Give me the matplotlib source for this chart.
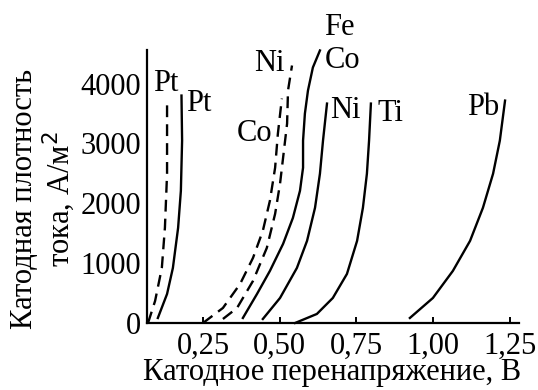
# -*- coding: utf-8 -*-
"""
Cathodic current density vs cathodic overpotential for several metals
"""

import numpy as np
import matplotlib
matplotlib.use('Agg')
import matplotlib.pyplot as plt

plt.rcParams['font.family'] = ['Liberation Serif', 'DejaVu Serif']

### curves: overpotential (V), current density (A/m2)
pt_dash_v = [0.071, 0.094, 0.116, 0.126, 0.133, 0.133]
pt_dash_i = [0, 368, 920, 1590, 2494, 3665]

pt_v = [0.103, 0.133, 0.152, 0.169, 0.178, 0.182, 0.180]
pt_i = [84, 485, 920, 1590, 2209, 3046, 3799]

co_dash_v = [0.250, 0.315, 0.371, 0.413, 0.445, 0.468, 0.485, 0.494, 0.507]
co_dash_i = [0, 251, 653, 1088, 1540, 2042, 2594, 3163, 3749]

ni_dash_v = [0.315, 0.361, 0.413, 0.458, 0.485, 0.501, 0.511, 0.524, 0.527, 0.540]
ni_dash_i = [67, 251, 703, 1255, 1824, 2326, 2762, 3331, 3883, 4301]

feco_v = [0.380, 0.426, 0.468, 0.511, 0.543, 0.566, 0.576, 0.576, 0.582, 0.592, 0.608, 0.631]
feco_i = [84, 485, 870, 1322, 1757, 2209, 2594, 3046, 3498, 3883, 4268, 4552]

ni_v = [0.445, 0.501, 0.556, 0.589, 0.615, 0.631, 0.641, 0.654]
ni_i = [67, 418, 920, 1372, 1925, 2494, 3046, 3665]

ti_v = [0.550, 0.621, 0.673, 0.719, 0.752, 0.771, 0.784, 0.791, 0.797]
ti_i = [0, 151, 418, 820, 1372, 1925, 2494, 3046, 3665]

pb_v = [0.924, 0.999, 1.064, 1.120, 1.162, 1.195, 1.217, 1.234]
pb_i = [84, 418, 870, 1372, 1925, 2494, 3046, 3715]

x_ticks = [0.25, 0.50, 0.75, 1.00, 1.25]
x_labels = ['0,25', '0,50', '0,75', '1,00', '1,25']
y_ticks = [0, 1000, 2000, 3000, 4000]

################### Begin plotting
fig = plt.figure(figsize=(5.38, 3.90), dpi=100)
ax = fig.add_axes([0.2732, 0.1718, 0.6914, 0.7000])

lw = 1.7
dash = (0, (5.0, 3.0))
curves = [(pt_dash_v, pt_dash_i, dash),
          (pt_v, pt_i, '-'),
          (co_dash_v, co_dash_i, dash),
          (ni_dash_v, ni_dash_i, dash),
          (feco_v, feco_i, '-'),
          (ni_v, ni_i, '-'),
          (ti_v, ti_i, '-'),
          (pb_v, pb_i, '-')]
for v, i, ls in curves:
    ax.plot(v, i, color='black', lw=lw, linestyle=ls, clip_on=False,
            solid_joinstyle='round', dash_joinstyle='round')

### curve labels
fs = 22
ax.text(0.129, 4000, 'Pt', fontsize=fs, ha='center', va='center')
ax.text(0.236, 3665, 'Pt', fontsize=fs, ha='center', va='center')
ax.text(0.466, 4335, 'Ni', fontsize=fs, ha='center', va='center')
ax.text(0.417, 3163, 'Co', fontsize=fs, ha='center', va='center')
ax.text(0.693, 4940, 'Fe', fontsize=fs, ha='center', va='center', clip_on=False)
ax.text(0.705, 4385, 'Co', fontsize=fs, ha='center', va='center')
ax.text(0.715, 3548, 'Ni', fontsize=fs, ha='center', va='center')
ax.text(0.861, 3498, 'Ti', fontsize=fs, ha='center', va='center')
ax.text(1.162, 3598, 'Pb', fontsize=fs, ha='center', va='center')

ax.set_xlim(0.0676, 1.2793)
ax.set_ylim(0, 4560)
ax.spines['top'].set_visible(False)
ax.spines['right'].set_visible(False)
ax.spines['left'].set_linewidth(1.6)
ax.spines['bottom'].set_linewidth(1.6)

ax.set_xticks(x_ticks)
ax.set_xticklabels(x_labels)
ax.set_yticks(y_ticks)
ax.set_yticklabels([str(t) for t in y_ticks])
ax.tick_params(axis='x', direction='in', length=4, width=1.4, pad=6, labelsize=fs)
ax.tick_params(axis='y', length=0, pad=4, labelsize=fs)

### axis titles
fig.text(0.617, 0.045, 'Катодное перенапряжение, В', fontsize=fs, ha='center', va='center')
fig.text(0.045, 0.49, 'Катодная плотность', fontsize=fs, rotation=90, ha='center', va='center')
fig.text(0.108, 0.49, 'тока, А/м$^2$', fontsize=fs, rotation=90, ha='center', va='center')

plt.savefig('out.png', dpi=100)
